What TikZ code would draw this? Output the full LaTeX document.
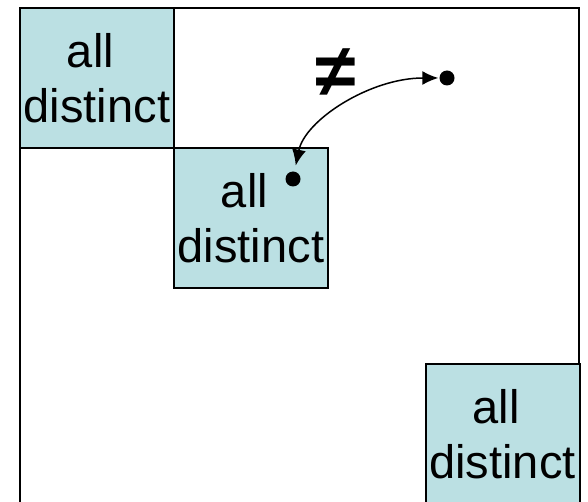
\documentclass[tikz,border=0pt]{standalone}
\usepackage{fontspec}
\setmainfont{Liberation Sans}
\usetikzlibrary{arrows.meta}
\definecolor{cellblue}{RGB}{187,224,227}
\tikzset{
  block/.style={draw=black, line width=2pt, fill=cellblue, minimum width=154pt,
    minimum height=140pt, inner sep=0pt, align=center,
    font=\fontsize{47}{55}\selectfont},
  dot/.style={circle, fill=black, inner sep=0pt, minimum size=15pt},
  link/.style={line width=1.5pt, {Latex[length=16pt,width=14pt]}-{Latex[length=16pt,width=14pt]}}
}
% block label with the trailing gap after the first word
\newcommand{\alldistinct}{all\rule{13pt}{0pt}\\distinct}
\begin{document}
\begin{tikzpicture}[x=1pt,y=-1pt]
  \useasboundingbox (0,0) rectangle (588,502);
  \begin{scope}
    \clip (0,0) rectangle (588,502);
    % enclosing matrix frame
    \draw[line width=2pt] (20,8) rectangle (579,560);
    % diagonal blocks
    \node[block] (b1) at (97,78) {\alldistinct};
    \node[block] (b2) at (251,218) {\alldistinct};
    \node[block] (b3) at (502.5,434) {\alldistinct};
  \end{scope}
  % two entries that differ
  \node[dot] (p) at (293,179) {};
  \node[dot] (q) at (447,78) {};
  \draw[link, shorten <=6pt, shorten >=1pt] (p) .. controls (305,120) and (370,78) .. (q);
  \node[font=\fontsize{74}{74}\bfseries\selectfont] (ne) at (336,73) {≠};
\end{tikzpicture}
\end{document}
